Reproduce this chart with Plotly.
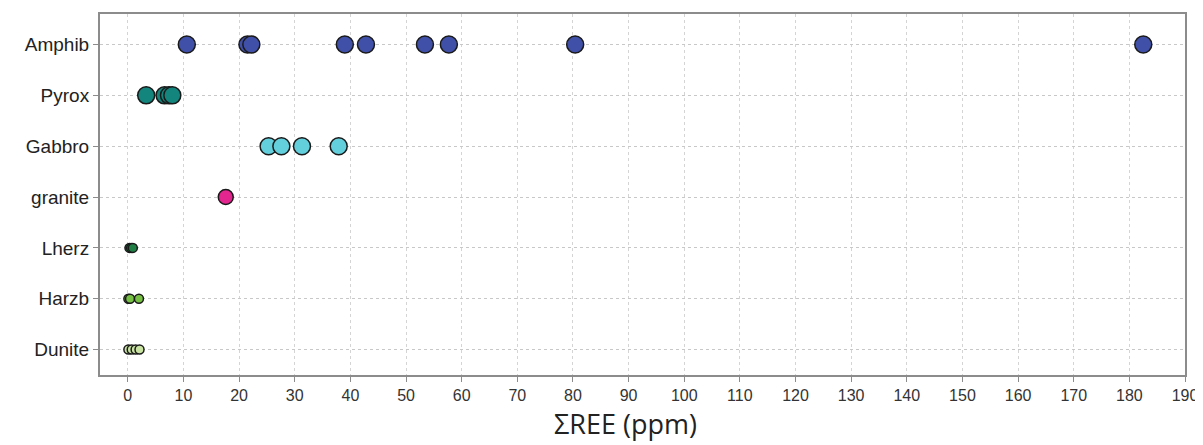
import plotly.graph_objects as go

categories = ["Dunite", "Harzb", "Lherz", "granite", "Gabbro", "Pyrox", "Amphib"]

amphib = [10.6, 21.5, 22.2, 39.0, 42.8, 53.4, 57.7, 80.4, 182.5]
pyrox = [3.3, 6.6, 7.4, 8.0]
gabbro = [25.3, 27.6, 31.3, 37.9]
granite = [17.6]
lherz = [0.3, 0.6, 0.9]
harzb = [0.1, 0.4, 2.0]
dunite = [0.1, 0.7, 1.4, 2.1]

x_ticks = list(range(0, 191, 10))
x_title = "ΣREE (ppm)"

series = [
    ("Amphib", amphib, "#4050a8", 17),
    ("Pyrox", pyrox, "#13857d", 17),
    ("Gabbro", gabbro, "#63cfdc", 17),
    ("granite", granite, "#e2258f", 15),
    ("Lherz", lherz, "#1f7f45", 9),
    ("Harzb", harzb, "#76c043", 9),
    ("Dunite", dunite, "#c9e3a3", 9),
]

fig = go.Figure()
for name, vals, color, size in series:
    fig.add_trace(go.Scatter(
        x=vals, y=[name] * len(vals), mode="markers", name=name,
        marker=dict(size=size, color=color, line=dict(color="#1a1a1a", width=1.5)),
        showlegend=False,
    ))

# page body has an 8px default margin, so the figure is drawn 8px in from the corner
fig.update_layout(
    width=1195, height=437,
    margin=dict(l=92, r=18, t=6, b=70),
    paper_bgcolor="white", plot_bgcolor="white",
    font=dict(family="Liberation Sans, Arial, sans-serif", color="#222"),
    annotations=[dict(
        text=x_title, xref="paper", yref="paper", x=0.484, y=-0.135,
        xanchor="center", yanchor="middle", showarrow=False,
        font=dict(size=27, family="Open Sans, sans-serif", color="#222"),
    )],
)
fig.update_xaxes(
    automargin=False,
    range=[-5, 190], tickvals=x_ticks, ticktext=[str(v) for v in x_ticks],
    tickfont=dict(size=16, color="#333"),
    showgrid=True, gridcolor="#d4d4d4", griddash="dot", gridwidth=1,
    zeroline=False,
    showline=True, linecolor="#8c8c8c", linewidth=2, mirror=True,
    ticks="outside", ticklen=5, tickcolor="#8c8c8c",
)
fig.update_yaxes(
    automargin=False,
    type="category", categoryorder="array", categoryarray=categories,
    range=[-0.5, 6.6],
    tickfont=dict(size=19, color="#222"),
    showgrid=True, gridcolor="#c8c8c8", griddash="dot", gridwidth=1,
    zeroline=False,
    showline=True, linecolor="#8c8c8c", linewidth=2, mirror=True,
    ticks="outside", ticklen=5, tickcolor="#8c8c8c",
)

fig.write_html("out.html")
